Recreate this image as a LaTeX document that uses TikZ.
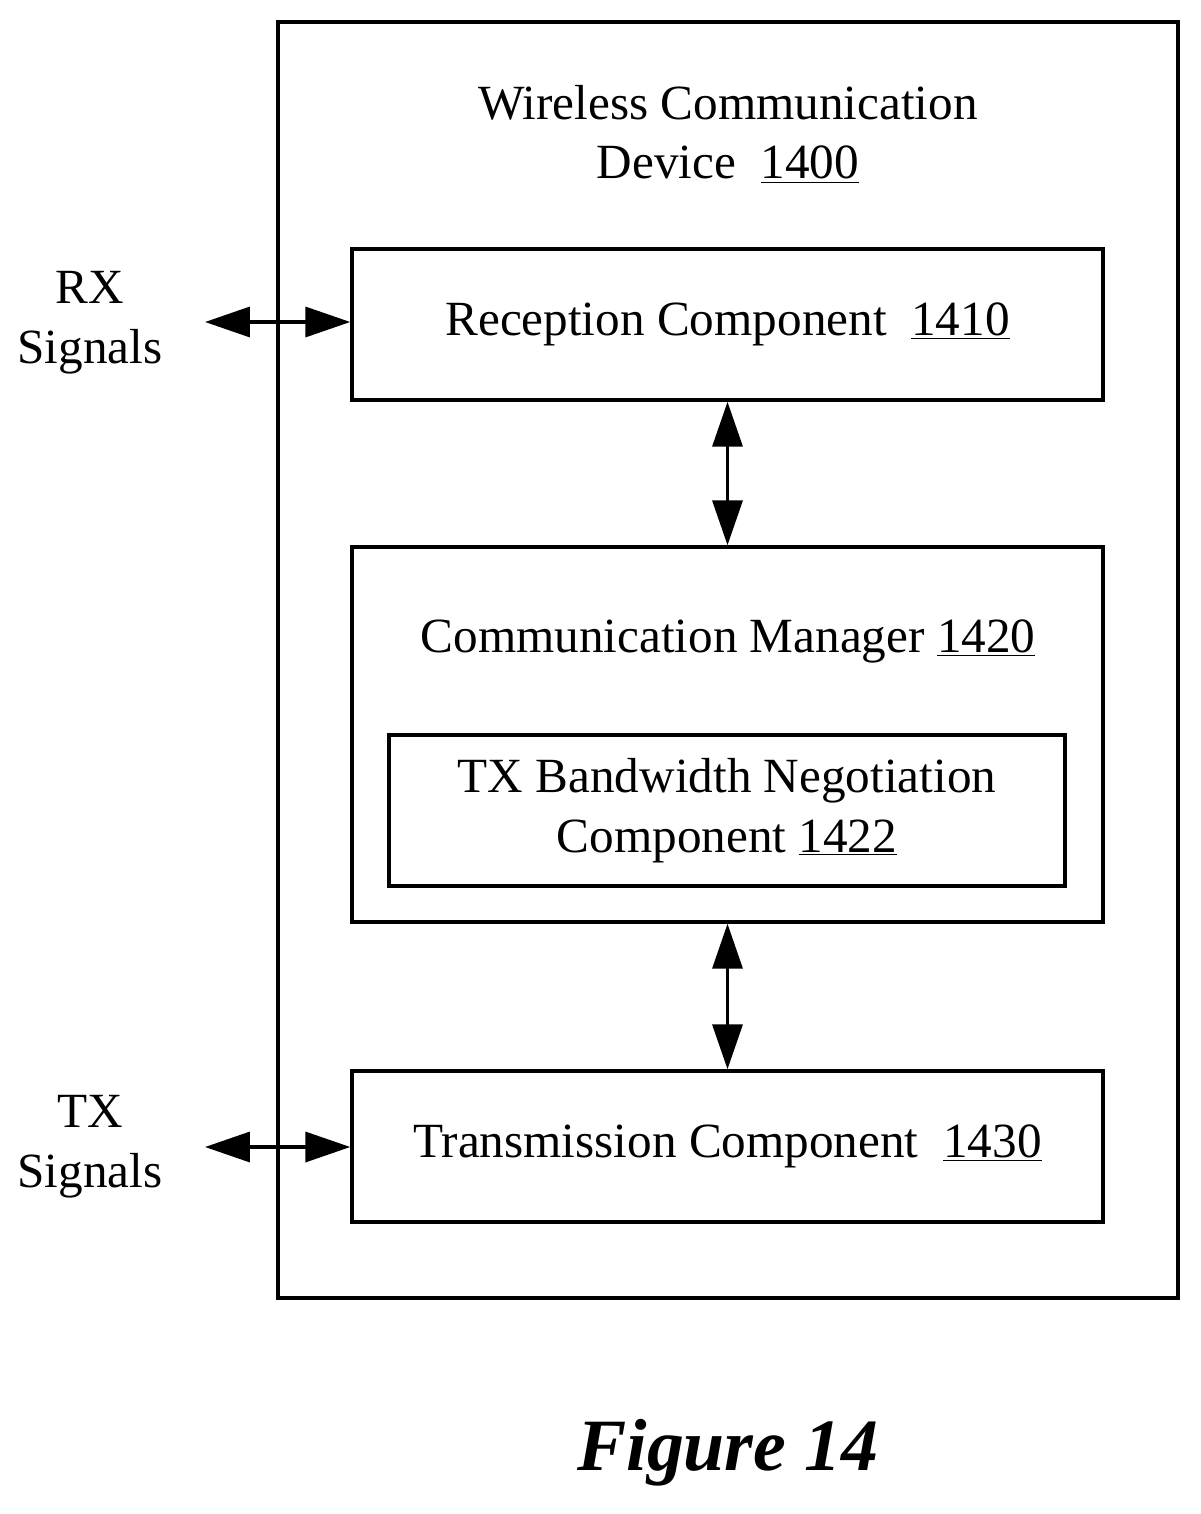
\documentclass[tikz,border=0pt]{standalone}
\usepackage{fontspec}
\setmainfont{Liberation Serif}
\usetikzlibrary{arrows.meta,positioning}
\tikzset{
  box/.style={draw,line width=2pt,minimum width=15.02cm,minimum height=3.02cm,font=\fontsize{28}{34}\selectfont,align=center},
  lbl/.style={font=\fontsize{28}{34}\selectfont,align=center},
  dbl/.style={{Triangle[length=0.9cm,width=0.6cm]}-{Triangle[length=0.9cm,width=0.6cm]},line width=2pt}
}
\begin{document}
\begin{tikzpicture}[x=0.02cm,y=-0.02cm]
\useasboundingbox (0,0) rectangle (1200,1514);
\node[draw,line width=2pt,minimum width=18cm,minimum height=25.52cm] (dev) at (728,660) {};
\node[lbl] (devt) at (728,134) {Wireless Communication\\Device\enspace\underline{1400}};
\node[box] (rx) at (727.5,324.5) {Reception Component\enspace\underline{1410}};
\node[box,minimum height=7.5cm] (cm) at (727.5,734.5) {};
\node[lbl] (cmt) at (728,641) {Communication Manager \underline{1420}};
\node[box,minimum width=13.52cm] (bw) at (727,810.5) {TX Bandwidth Negotiation\\Component \underline{1422}};
\node[box] (tx) at (727.5,1146.5) {Transmission Component\enspace\underline{1430}};
\node[lbl] (rxs) at (90,323) {RX\\Signals};
\node[lbl] (txs) at (90,1147) {TX\\Signals};
\coordinate (rxe) at (205,322);
\coordinate (txe) at (205,1147);
\draw[dbl] (rxe) -- (rx.west|-rxe);
\draw[dbl] (txe) -- (tx.west|-txe);
\draw[dbl] (rx.south) -- (cm.north);
\draw[dbl] (cm.south) -- (tx.north);
\node[font=\fontsize{42}{46}\selectfont\bfseries\itshape] (fig) at (728,1453) {Figure 14};
\end{tikzpicture}
\end{document}
